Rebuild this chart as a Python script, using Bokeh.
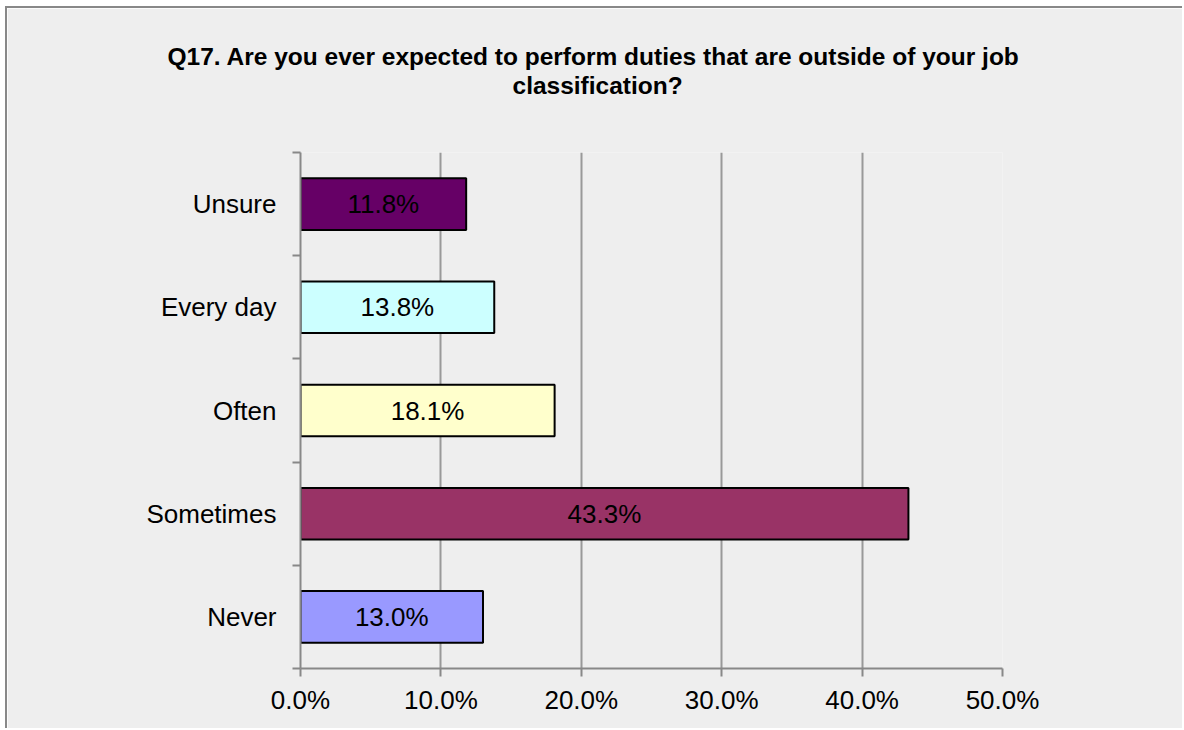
from bokeh.plotting import figure
from bokeh.models import (ColumnDataSource, FixedTicker, PrintfTickFormatter,
                          LabelSet, Title, Range1d)
from bokeh.core.properties import value
from bokeh.embed import file_html
from bokeh.resources import INLINE
import numpy as np

# ---- data ----
title_lines = ["Q17. Are you ever expected to perform duties that are outside of your job",
               "classification?"]
categories = ["Never", "Sometimes", "Often", "Every day", "Unsure"]
values = [13.0, 43.3, 18.1, 13.8, 11.8]
colors = ["#9999FF", "#993366", "#FFFFCC", "#CCFFFF", "#660066"]
x_ticks = [0, 10, 20, 30, 40, 50]

FONT = "Liberation Sans"
BG = "#EEEEEE"
FS = "26px"

ypos = np.arange(len(categories)) + 0.5
src = ColumnDataSource(dict(
    y=ypos, v=values, c=colors, mid=[v / 2 for v in values],
    lab=["%.1f%%" % v for v in values]))

W, H = 1177, 722
p = figure(width=W, height=H, output_backend="svg", toolbar_location=None,
           x_range=Range1d(0, 50), y_range=Range1d(0, len(categories)),
           min_border_left=293, min_border_right=W - 995,
           min_border_top=144, min_border_bottom=H - 660)
p.title.visible = False
p.styles = {"margin-left": "5px", "margin-top": "6px",
            "border-left": "2px solid #888888", "border-top": "2px solid #888888"}
p.background_fill_color = BG
p.border_fill_color = BG
p.outline_line_color = None

p.hbar(y="y", right="v", left=0, height=0.5, fill_color="c", line_color="black",
       line_width=2, source=src)

p.add_layout(LabelSet(x="mid", y="y", text="lab", source=src, text_align="center",
                      text_baseline="middle", text_font=value(FONT),
                      text_font_size=value(FS), text_color="black"))

# x axis
xa = p.xaxis[0]
xa.ticker = FixedTicker(ticks=x_ticks, minor_ticks=[])
xa.formatter = PrintfTickFormatter(format="%.1f%%")
xa.axis_line_color = "#888888"
xa.axis_line_width = 2
xa.major_tick_line_color = "#888888"
xa.major_tick_line_width = 2
xa.major_tick_out = 8
xa.major_tick_in = 0
xa.minor_tick_line_color = None
xa.major_label_text_font = FONT
xa.major_label_text_font_size = FS
xa.major_label_text_color = "black"
xa.major_label_standoff = 8

# y axis
ya = p.yaxis[0]
ya.ticker = FixedTicker(ticks=list(ypos), minor_ticks=list(range(len(categories) + 1)))
ya.major_label_overrides = {float(y): c for y, c in zip(ypos, categories)}
ya.axis_line_color = "#888888"
ya.axis_line_width = 2
ya.major_tick_line_color = None
ya.major_tick_out = 0
ya.major_tick_in = 0
ya.minor_tick_line_color = "#888888"
ya.minor_tick_line_width = 2
ya.minor_tick_out = 8
ya.minor_tick_in = 0
ya.major_label_text_font = FONT
ya.major_label_text_font_size = FS
ya.major_label_text_color = "black"
ya.major_label_standoff = 16

p.xgrid.ticker = FixedTicker(ticks=x_ticks[1:])
p.xgrid.grid_line_color = "#999999"
p.xgrid.grid_line_width = 2
p.ygrid.grid_line_color = None

# title: spacer, then two lines stacked upward from the frame
p.add_layout(Title(text=" ", text_font_size="2px", standoff=50), "above")
p.add_layout(Title(text=title_lines[1], align="left", offset=212, standoff=0,
                   text_font=FONT, text_font_size="24.5px", text_font_style="bold",
                   text_color="black"), "above")
p.add_layout(Title(text=title_lines[0], align="left", offset=-133, standoff=0,
                   text_font=FONT, text_font_size="24.5px", text_font_style="bold",
                   text_color="black"), "above")

open("out.html", "w").write(file_html(p, INLINE))
